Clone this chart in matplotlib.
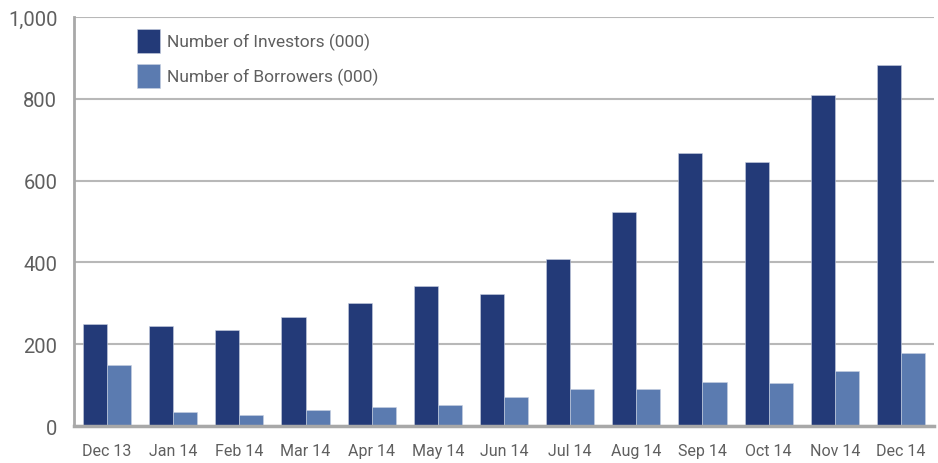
import numpy as np
import matplotlib.pyplot as plt

plt.rcParams['font.family'] = ['Roboto', 'DejaVu Sans']

months = ["Dec 13", "Jan 14", "Feb 14", "Mar 14", "Apr 14", "May 14", "Jun 14",
          "Jul 14", "Aug 14", "Sep 14", "Oct 14", "Nov 14", "Dec 14"]
investors = [250, 245, 236, 267, 300, 342, 322, 408, 524, 667, 645, 809, 882]
borrowers = [150, 35, 28, 39, 46, 51, 72, 90, 90, 108, 106, 135, 178]

dark = "#233a78"
light = "#5b7bb0"
grey_txt = "#5f5f5f"

fig = plt.figure(figsize=(9.38, 4.64), dpi=100)
ax = fig.add_axes([0.0789, 0.0797, 0.9168, 0.8813])

x = np.arange(len(months))
w = 0.364
ax.bar(x - w / 2, investors, w, color=dark, edgecolor="#c8d0e0", linewidth=0.4,
       label="Number of Investors (000)", zorder=3)
ax.bar(x + w / 2, borrowers, w, color=light, edgecolor="#c8d0e0", linewidth=0.4,
       label="Number of Borrowers (000)", zorder=3)

ax.set_xlim(-0.5, len(months) - 0.5)
ax.set_ylim(0, 1000)
ax.set_yticks(range(0, 1001, 200))
ax.set_yticklabels(["0", "200", "400", "600", "800", "1,000"])
ax.set_xticks(x)
ax.set_xticklabels(months)

ax.grid(axis="y", color="#b8b8b8", linewidth=1.5, zorder=0)
ax.set_axisbelow(True)
for s in ["top", "right"]:
    ax.spines[s].set_visible(False)
ax.spines["left"].set_color("#a8a8a8")
ax.spines["left"].set_linewidth(2)
ax.spines["bottom"].set_color("#a8a8a8")
ax.spines["bottom"].set_linewidth(2.5)
ax.spines["bottom"].set_zorder(4)

ax.tick_params(axis="both", length=0, colors=grey_txt)
ax.tick_params(axis="y", labelsize=14.5, pad=12)
ax.tick_params(axis="x", labelsize=11.5, pad=12)

ax.legend(loc="upper left", bbox_to_anchor=(0.0733, 0.972), frameon=False,
          fontsize=12.5, handlelength=1.35, handleheight=1.8, handletextpad=0.4,
          labelspacing=0.6, borderpad=0, borderaxespad=0, labelcolor=grey_txt)

fig.savefig("out.png", dpi=100)
